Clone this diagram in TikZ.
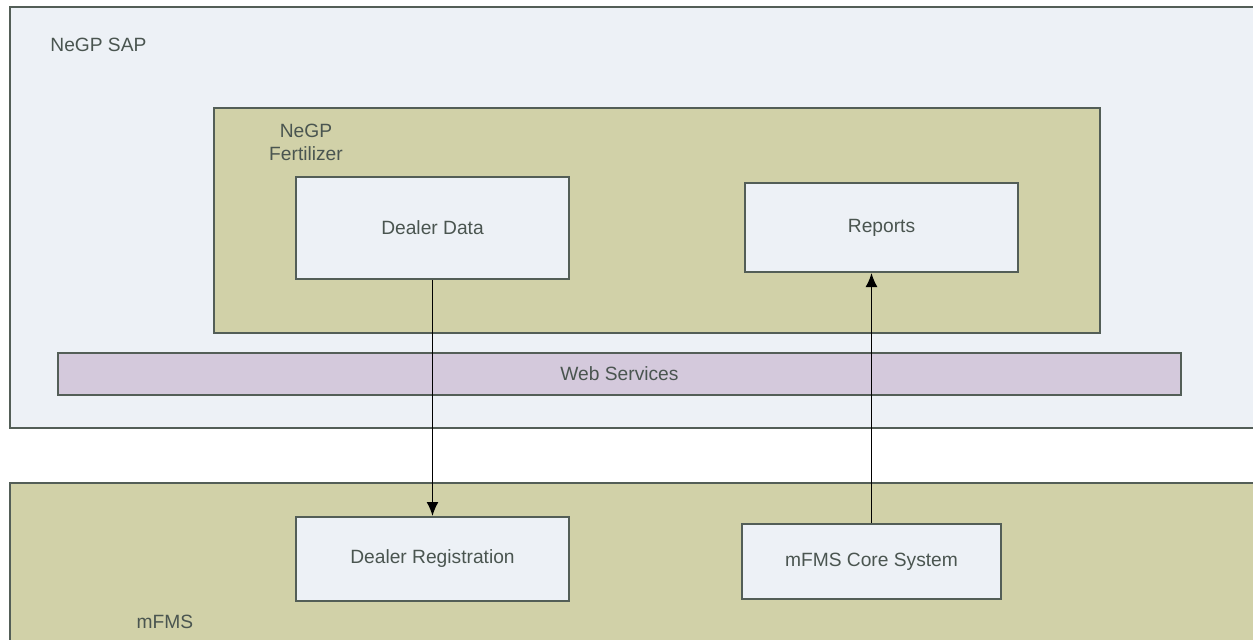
\documentclass[tikz,border=0pt]{standalone}
\usepackage{fontspec}
\setmainfont{Liberation Sans}
\usetikzlibrary{arrows.meta}
\definecolor{sapfill}{HTML}{EDF1F6}
\definecolor{olivefill}{HTML}{D1D1A8}
\definecolor{wsfill}{HTML}{D4C9DC}
\definecolor{edge}{HTML}{535E57}
\definecolor{txt}{HTML}{4A5550}
\begin{document}
\begin{tikzpicture}[x=0.5pt,y=-0.5pt,
	box/.style={rectangle,draw=edge,line width=1pt,inner sep=0pt,text=txt,
	font=\fontsize{9.6}{11.5}\selectfont},
	lbl/.style={inner sep=0pt,text=txt,font=\fontsize{9.6}{11.5}\selectfont}]
	\clip (0,0) rectangle (1253,639);
	\fill [white] (0,0) rectangle (1253,639);
	\node(sap) [box,fill=sapfill,minimum width=630pt,minimum height=210.5pt] at (640,217.5) {};
	\node(sapl) [lbl,anchor=west] at (50,45) {NeGP SAP};
	\node(fert) [box,fill=olivefill,minimum width=443pt,minimum height=112.5pt] at (657,220.5) {};
	\node(fertl) [lbl,align=center] at (306,142) {NeGP\\Fertilizer};
	\node(dd) [box,fill=sapfill,minimum width=136.5pt,minimum height=51pt] at (432.5,228) {Dealer Data};
	\node(rep) [box,fill=sapfill,minimum width=136.5pt,minimum height=44.5pt] at (881.5,227.5) {Reports};
	\node(ws) [box,fill=wsfill,minimum width=561.5pt,minimum height=21pt] at (619.5,374) {Web Services};
	\node(mfms) [box,fill=olivefill,minimum width=630pt,minimum height=90pt] at (640,573) {};
	\node(mfmsl) [lbl] at (165,622) {mFMS};
	\node(dr) [box,fill=sapfill,minimum width=136.5pt,minimum height=42pt] at (432.5,559) {Dealer Registration};
	\node(core) [box,fill=sapfill,minimum width=129.5pt,minimum height=37.5pt] at (871.5,561.5) {mFMS Core System};
	\draw [-{Latex[length=7pt,width=6pt]}, line width=0.8pt] (dd) -- (dr);
	\draw [-{Latex[length=7pt,width=6pt]}, line width=0.8pt] (core) -- (core.north |- rep.south);
\end{tikzpicture}
\end{document}
